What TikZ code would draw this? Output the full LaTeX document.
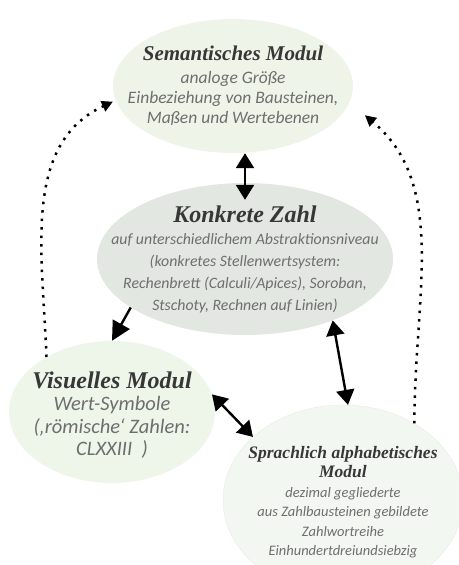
\documentclass[tikz,border=0pt]{standalone}
\usepackage{fontspec}
\usepackage{xcolor}
\usetikzlibrary{shapes.geometric}
\usetikzlibrary{arrows.meta}
\newfontfamily\headfont{Liberation Serif}
\newfontfamily\bodyfont{Carlito}
\definecolor{semgreen}{RGB}{238,245,232}
\definecolor{konkgray}{RGB}{226,231,225}
\definecolor{visgreen}{RGB}{238,246,234}
\definecolor{sprachgreen}{RGB}{243,247,241}
\definecolor{sprachline}{RGB}{230,236,228}
\definecolor{headgray}{RGB}{55,55,55}
\definecolor{bodygray}{RGB}{110,110,110}
\tikzstyle{modul} = [ellipse, draw=none, inner sep=0pt]
\tikzstyle{modtext} = [align=center, inner sep=0pt, text=bodygray]
\tikzstyle{biarrow} = [{Triangle[length=15pt,width=18pt]}-{Triangle[length=15pt,width=18pt]}, line width=2.4pt, black]
\tikzstyle{onearrow} = [-{Triangle[length=19pt,width=19pt]}, line width=2.4pt, black]
\tikzstyle{dotarrow} = [-{Triangle[length=11pt,width=11pt]}, line width=2.5pt, black,
dash pattern=on 2.5pt off 6pt]
\newcommand{\modhead}[2]{{\headfont\bfseries\itshape\fontsize{#1}{#1}\selectfont\color{headgray}#2}}

\begin{document}
\begin{tikzpicture}[x=1pt,y=1pt]
        \useasboundingbox (0,0) rectangle (458,565);
        % ellipses
        \node [modul, fill=semgreen, minimum width=240pt, minimum height=134pt] (sem) at (233,479) {};
        \node [modul, fill=konkgray, minimum width=296pt, minimum height=152pt] (konk) at (245,306) {};
        \node [modul, fill=visgreen, minimum width=206pt, minimum height=142pt] (vis) at (112,153) {};
        \node [modul, fill=sprachgreen, draw=sprachline, minimum width=240pt, minimum height=190pt] (sprach) at (343,65) {};
        % texts
        \node [modtext, font=\bodyfont\itshape\fontsize{17.5}{20}\selectfont] (semtext) at (sem) {%
            \modhead{21}{Semantisches Modul}\\[3pt]
            analoge Größe\\
            Einbeziehung von Bausteinen,\\
            Maßen und Wertebenen};
        \node [modtext, font=\bodyfont\itshape\fontsize{15.8}{22}\selectfont] (konktext) at (konk) {%
            \modhead{24}{Konkrete Zahl}\\
            auf unterschiedlichem Abstraktionsniveau\\
            (konkretes Stellenwertsystem:\\
            Rechenbrett (Calculi/Apices), Soroban,\\
            Stschoty, Rechnen auf Linien)};
        \node [modtext, font=\bodyfont\itshape\fontsize{20.5}{22.5}\selectfont] (vistext) at ([yshift=-3pt]vis.center) {%
            \modhead{24}{Visuelles Modul}\\
            Wert-Symbole\\
            (‚römische‘ Zahlen:\\
            CLXXIII~~)};
        \node [modtext, font=\bodyfont\itshape\fontsize{14.5}{19.5}\selectfont] (sprachtext) at ([yshift=-2pt]sprach.center) {%
            \modhead{17.5}{Sprachlich alphabetisches}\\
            \modhead{17.5}{Modul}\\
            dezimal gegliederte\\
            aus Zahlbausteinen gebildete\\
            Zahlwortreihe\\
            Einhundertdreiundsiebzig};

        \draw [biarrow] (sem.south -| konk.north) -- ([yshift=-17pt]konk.north);
        \draw [onearrow] (konk.203) -- (vis.north);
        \draw [biarrow] (vis.10) -- (sprach.145);
        \draw [biarrow] (konk.-35) -- (sprach.87);
        % feedback to the semantic module
        \draw [dotarrow, shorten >=3pt] (vis.140) to[out=92,in=205] (sem.187);
        \draw [dotarrow, shorten >=20pt] (sprach.47) to[out=90,in=-40] (sem.-8);
\end{tikzpicture}
\end{document}
